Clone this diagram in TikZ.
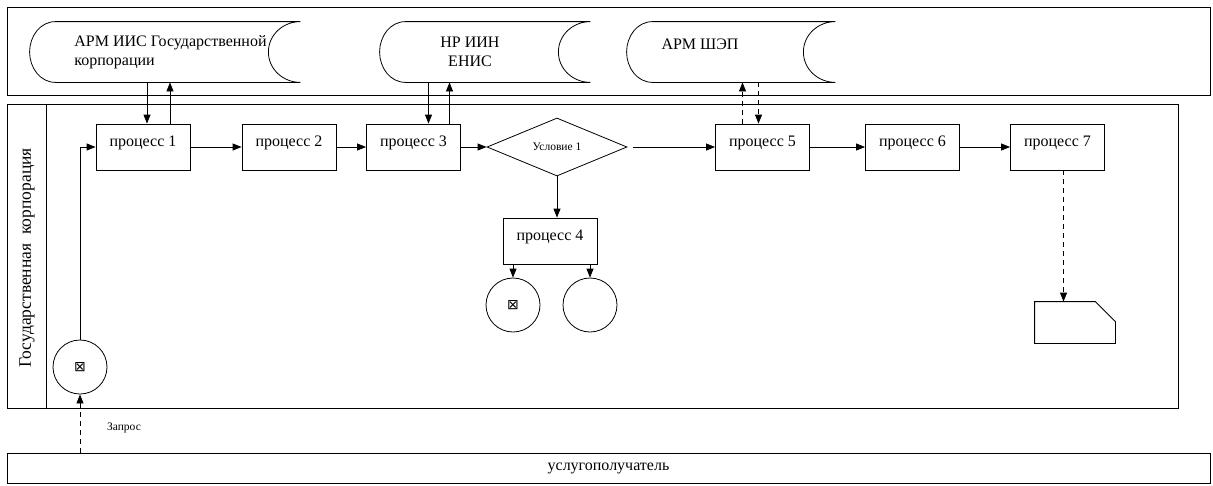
\documentclass[tikz,border=0pt]{standalone}
\usepackage{fontspec}
\setmainfont{Liberation Serif}
\newfontfamily\symfont{DejaVu Sans}
\usetikzlibrary{shapes.geometric,arrows.meta,calc}

\tikzset{
  proc/.style={draw, minimum width=94pt, minimum height=46pt, inner sep=0pt, text depth=12pt, font=\fontsize{16}{18}\selectfont},
  cond/.style={draw, diamond, aspect=2.4, minimum width=140pt, minimum height=58pt, inner sep=0pt, font=\fontsize{11.5}{13}\selectfont},
  evt/.style={draw, circle, minimum size=54pt, inner sep=0pt, font=\symfont\fontsize{14}{16}\selectfont},
  store/.style={minimum width=#1, minimum height=60pt, inner sep=0pt},
  lbl/.style={font=\fontsize{16}{19}\selectfont, align=center, inner sep=0pt},
  arr/.style={-{Triangle[length=9pt,width=7pt]}},
  darr/.style={arr, dash pattern=on 5pt off 4pt}
}

% outline of a data store around an empty node
\newcommand{\storeshape}[1]{%
  \draw ([xshift=26pt]#1.north west) -- (#1.north east)
    to[out=180,in=90] ([xshift=-32pt]#1.east)
    to[out=-90,in=180] (#1.south east)
    -- ([xshift=26pt]#1.south west)
    to[out=180,in=-90] (#1.west)
    to[out=90,in=180] ([xshift=26pt]#1.north west);}

\begin{document}
\begin{tikzpicture}[x=1pt,y=-1pt,line width=0.8pt]
  \useasboundingbox (0,0) rectangle (1213,485);
  % lanes
  \draw (7,7) rectangle (1210,95);
  \draw (7,104) rectangle (1178,408);
  \draw (46,104) -- (46,408);
  \node[lbl, draw, minimum width=1203pt, minimum height=30pt] (client) at (608.5,468) {услугополучатель};
  \node[lbl, rotate=90, font=\fontsize{17.5}{20}\selectfont] (lane) at (27,258) {Государственная\ \ корпорация};
  %
  \node[store=270pt] (st1) at (165,52) {};
  \node[store=210pt] (st2) at (485,52) {};
  \node[store=208pt] (st3) at (731,52) {};
  \storeshape{st1}
  \storeshape{st2}
  \storeshape{st3}
  \node[lbl, align=left, anchor=west] (st1t) at (74,52) {АРМ ИИС Государственной\\корпорации};
  \node[lbl] (st2t) at (470,52) {НР ИИН\\ЕНИС};
  \node[lbl] (st3t) at (700,44) {АРМ ШЭП};
  %
  \node[proc] (p1) at (143,147) {процесс 1};
  \node[proc] (p2) at (289,147) {процесс 2};
  \node[proc] (p3) at (413.5,147) {процесс 3};
  \node[cond] (c1) at (557,147) {Условие 1};
  \node[proc] (p4) at (550,241) {процесс 4};
  \node[proc] (p5) at (762.5,147) {процесс 5};
  \node[proc] (p6) at (912.5,147) {процесс 6};
  \node[proc] (p7) at (1057.5,147) {процесс 7};
  \node[evt] (start) at (80,367) {⊠};
  \node[evt] (end1) at (513,305) {⊠};
  \node[evt] (end2) at (590,305) {};
  \node[minimum width=80pt, minimum height=41pt, inner sep=0pt] (doc) at (1075,322.5) {};
  \draw (doc.south west) -- (doc.north west) -- ([xshift=-20pt]doc.north east)
    -- ([yshift=-20pt]doc.north east) -- (doc.south east) -- cycle;
  \node[font=\fontsize{11.5}{13}\selectfont] (req) at (124,428) {Запрос};
  %
  \draw[arr] (start.north) |- (p1.west);
  \draw[darr] (start.south |- client.north) -- (start.south);
  \draw[arr] (p1) -- (p2);
  \draw[arr] (p2) -- (p3);
  \draw[arr] (p3) -- (c1);
  \draw[arr] ([xshift=6pt]c1.east) -- (p5.west);
  \draw[arr] (c1.south) -- (c1.south |- p4.north);
  \draw[arr] (end1.north |- p4.south) -- (end1.north);
  \draw[arr] (end2.north |- p4.south) -- (end2.north);
  \draw[arr] (p5) -- (p6);
  \draw[arr] (p6) -- (p7);
  \draw[darr] ([xshift=6pt]p7.south) -- ([xshift=6pt]p7.south |- doc.north);
  %
  \draw[arr] ([xshift=4pt]p1.north |- st1.south) -- ([xshift=4pt]p1.north);
  \draw[arr] ([xshift=27pt]p1.north) -- ([xshift=27pt]p1.north |- st1.south);
  \draw[arr] ([xshift=15pt]p3.north |- st2.south) -- ([xshift=15pt]p3.north);
  \draw[arr] ([xshift=36pt]p3.north) -- ([xshift=36pt]p3.north |- st2.south);
  \draw[darr] ([xshift=-20pt]p5.north) -- ([xshift=-20pt]p5.north |- st3.south);
  \draw[darr] ([xshift=-4pt]p5.north |- st3.south) -- ([xshift=-4pt]p5.north);
\end{tikzpicture}
\end{document}
